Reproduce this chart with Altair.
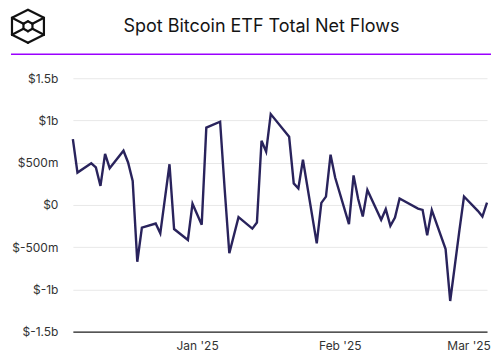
import altair as alt
import pandas as pd

TITLE = "Spot Bitcoin ETF Total Net Flows"

dates = [
    "2024-12-05", "2024-12-06", "2024-12-09", "2024-12-10", "2024-12-11", "2024-12-12",
    "2024-12-13", "2024-12-16", "2024-12-17", "2024-12-18", "2024-12-19", "2024-12-20",
    "2024-12-23", "2024-12-24", "2024-12-26", "2024-12-27", "2024-12-30", "2024-12-31",
    "2025-01-02", "2025-01-03", "2025-01-06", "2025-01-07", "2025-01-08", "2025-01-10",
    "2025-01-13", "2025-01-14", "2025-01-15", "2025-01-16", "2025-01-17", "2025-01-21",
    "2025-01-22", "2025-01-23", "2025-01-24", "2025-01-27", "2025-01-28", "2025-01-29",
    "2025-01-30", "2025-01-31", "2025-02-03", "2025-02-04", "2025-02-05", "2025-02-06",
    "2025-02-07", "2025-02-10", "2025-02-11", "2025-02-12", "2025-02-13", "2025-02-14",
    "2025-02-18", "2025-02-19", "2025-02-20", "2025-02-21", "2025-02-24", "2025-02-25",
    "2025-02-26", "2025-02-27", "2025-02-28", "2025-03-03", "2025-03-04", "2025-03-05",
]
flows_m = [
    780, 383, 493, 445, 225, 605,
    435, 642, 503, 285, -672, -268,
    -220, -336, 482, -285, -415, 15,
    -235, 915, 985, 180, -572, -145,
    -280, -208, 760, 630, 1075, 806,
    255, 195, 535, -455, 25, 98,
    595, 325, -228, 350, 70, -136,
    178, -176, -50, -248, -150, 76,
    -44, -58, -358, -60, -522, -1137,
    -720, -300, 100, -70, -138, 28,
]
y_ticks = [-1500, -1000, -500, 0, 500, 1000, 1500]
x_tick_dates = [(2025, 1, 1), (2025, 2, 1), (2025, 3, 1)]

# logo segments (decorative header icon, pixel space relative to plot origin)
ox, oy = -45, -52
hx = [0, 16, 16, 0, -16, -16]
hy = [-16.5, -8.5, 8.5, 16.5, 8.5, -8.5]
ix = [0, 4.5, 4.5, 0, -4.5, -4.5]
iy = [-5, -2.5, 2.5, 5, 2.5, -2.5]

df = pd.DataFrame({"date": dates, "flow": flows_m})

segs = []
for i in range(6):
    j = (i + 1) % 6
    segs.append((hx[i], hy[i], hx[j], hy[j]))
    segs.append((ix[i], iy[i], ix[j], iy[j]))
for i in [1, 2, 4, 5]:
    segs.append((hx[i], hy[i], ix[i], iy[i]))
logo_df = pd.DataFrame(
    [{"x": ox + a, "y": oy + b, "x2": ox + c, "y2": oy + d} for a, b, c, d in segs]
)

FONT = "Inter"

line = alt.Chart(df).mark_line(color="#29235c", strokeWidth=2.4, strokeJoin="miter").encode(
    x=alt.X(
        "date:T",
        title=None,
        scale=alt.Scale(type="utc", nice=False),
        axis=alt.Axis(
            values=[alt.DateTime(year=y, month=m, date=d, utc=True) for y, m, d in x_tick_dates],
            labelExpr="utcFormat(datum.value, \"%b '%y\")",
            ticks=False,
            grid=False,
            domain=True,
            domainColor="#222222",
            domainWidth=1.2,
            labelPadding=9,
            labelFontSize=12,
            labelColor="#333333",
            labelFont=FONT,
        ),
    ),
    y=alt.Y(
        "flow:Q",
        title=None,
        scale=alt.Scale(domain=[-1500, 1500], nice=False),
        axis=alt.Axis(
            values=y_ticks,
            labelExpr="datum.value == 0 ? '$0' : (abs(datum.value) >= 1000 ? '$' + (datum.value / 1000) + 'b' : '$' + datum.value + 'm')",
            ticks=False,
            domain=False,
            grid=True,
            gridColor="#e8e8e8",
            gridWidth=1,
            labelPadding=15,
            labelFontSize=12,
            labelColor="#333333",
            labelFont=FONT,
        ),
    ),
)

title = alt.Chart(pd.DataFrame({"t": [TITLE]})).mark_text(
    font=FONT, fontSize=18, color="#141414", align="center", baseline="middle"
).encode(text="t:N", x=alt.value(189), y=alt.value(-51))

purple = alt.Chart(pd.DataFrame({"a": [0]})).mark_rule(color="#9b00ff", strokeWidth=1.6).encode(
    x=alt.value(-62), x2=alt.value(419), y=alt.value(-24)
)

logo = alt.Chart(logo_df).mark_rule(color="#111111", strokeWidth=2.2, strokeCap="round").encode(
    x=alt.X("x:Q", scale=None, axis=None),
    y=alt.Y("y:Q", scale=None, axis=None),
    x2="x2:Q",
    y2="y2:Q",
)

chart = (
    alt.layer(line, title, purple, logo)
    .resolve_scale(x="independent", y="independent")
    .properties(
        width=415,
        height=254,
        autosize=alt.AutoSizeParams(type="none"),
        padding={"left": 65, "top": 70, "right": 5, "bottom": 20},
    )
    .configure_view(stroke=None)
)

chart.save("out.html", embed_options={"renderer": "svg", "actions": False})
